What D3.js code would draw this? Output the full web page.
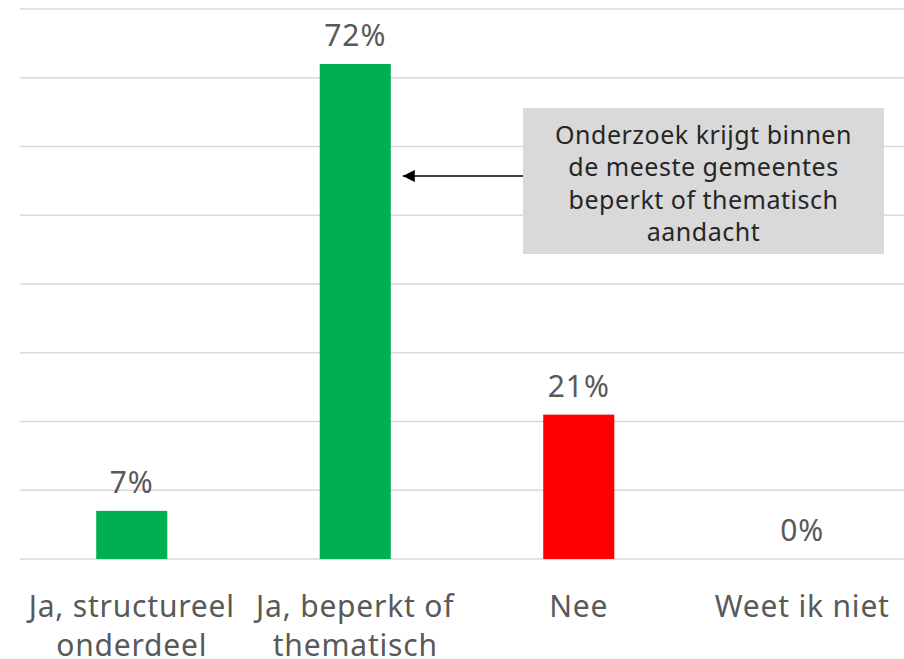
<!DOCTYPE html>
<html>
<head>
<meta charset="utf-8">
<script src="https://cdn.jsdelivr.net/npm/d3@7"></script>
<style>
  body { margin: 0; background: #fff; }
  svg { display: block; font-family: "Noto Sans", sans-serif; }
</style>
</head>
<body>
<svg id="chart"></svg>
<script>
const chartWidth = 904;
const chartHeight = 659;
const margin = {top: 9, right: -10, bottom: 100, left: 20};
const innerWidth = chartWidth - margin.left - margin.right;
const innerHeight = chartHeight - margin.top - margin.bottom;

// data
const categories = ["Ja, structureel onderdeel", "Ja, beperkt of thematisch", "Nee", "Weet ik niet"];
const categoryLines = [["Ja, structureel", "onderdeel"], ["Ja, beperkt of", "thematisch"], ["Nee"], ["Weet ik niet"]];
const values = [7, 72, 21, 0];
const barColors = ["#00b050", "#00b050", "#ff0000", "#00b050"];
const yTicks = [0, 10, 20, 30, 40, 50, 60, 70, 80];
const noteLines = ["Onderzoek krijgt binnen", "de meeste gemeentes", "beperkt of thematisch", "aandacht"];

const LABEL_COLOR = "#595959";
const GRID_COLOR = "#d9d9d9";

const svg = d3.select("#chart")
    .attr("width", chartWidth)
    .attr("height", chartHeight);
const g = svg.append("g")
    .attr("transform", `translate(${margin.left}, ${margin.top})`);

const xScale = d3.scaleBand()
    .domain(categories)
    .range([0, innerWidth])
    .paddingInner(0.682)
    .paddingOuter(0.341);
const yScale = d3.scaleLinear()
    .domain([0, 80])
    .range([innerHeight, 0]);

// gridlines
g.append("g")
    .attr("class", "grid")
    .selectAll("line")
    .data(yTicks)
    .join("line")
    .attr("x1", 0)
    .attr("x2", innerWidth)
    .attr("y1", d => yScale(d))
    .attr("y2", d => yScale(d))
    .attr("stroke", GRID_COLOR)
    .attr("stroke-width", 1.5);

// bars
g.selectAll(".bar")
    .data(values)
    .join("rect")
    .attr("class", "bar")
    .attr("x", (d, i) => xScale(categories[i]))
    .attr("y", d => yScale(d))
    .attr("width", xScale.bandwidth())
    .attr("height", d => innerHeight - yScale(d))
    .attr("fill", (d, i) => barColors[i]);

// value labels
g.selectAll(".value-label")
    .data(values)
    .join("text")
    .attr("class", "value-label")
    .attr("x", (d, i) => xScale(categories[i]) + xScale.bandwidth() / 2)
    .attr("y", d => yScale(d) - 18)
    .attr("text-anchor", "middle")
    .attr("fill", LABEL_COLOR)
    .attr("font-size", 30)
    .attr("letter-spacing", 1)
    .text(d => d + "%");

// category labels
const catLabels = g.selectAll(".cat-label")
    .data(categoryLines)
    .join("text")
    .attr("class", "cat-label")
    .attr("text-anchor", "middle")
    .attr("fill", LABEL_COLOR)
    .attr("font-size", 30)
    .attr("letter-spacing", 0.8)
    .attr("transform", (d, i) => `translate(${xScale(categories[i]) + xScale.bandwidth() / 2}, ${innerHeight + 58})`);
catLabels.selectAll("tspan")
    .data(d => d)
    .join("tspan")
    .attr("x", 0)
    .attr("y", (d, i) => i * 39)
    .text(d => d);

// annotation box with arrow to the second bar
const boxX = 503, boxY = 99, boxW = 361, boxH = 146;
const note = g.append("g").attr("class", "note");
note.append("rect")
    .attr("x", boxX)
    .attr("y", boxY)
    .attr("width", boxW)
    .attr("height", boxH)
    .attr("fill", "#d9d9d9");
note.selectAll("text")
    .data(noteLines)
    .join("text")
    .attr("x", boxX + boxW / 2)
    .attr("y", (d, i) => boxY + 36 + i * 32.3)
    .attr("text-anchor", "middle")
    .attr("fill", "#262626")
    .attr("font-size", 25)
    .attr("letter-spacing", 0.5)
    .text(d => d);

svg.append("defs").append("marker")
    .attr("id", "arrow")
    .attr("viewBox", "0 0 10 10")
    .attr("refX", 10)
    .attr("refY", 5)
    .attr("markerWidth", 17)
    .attr("markerHeight", 12)
    .attr("markerUnits", "userSpaceOnUse")
    .attr("orient", "auto")
    .append("path")
    .attr("d", "M0,0 L10,5 L0,10 Z")
    .attr("fill", "#000");

const arrowX = xScale(categories[1]) + xScale.bandwidth() + 12;
note.append("line")
    .attr("x1", boxX)
    .attr("x2", arrowX)
    .attr("y1", yScale(55.7))
    .attr("y2", yScale(55.7))
    .attr("stroke", "#000")
    .attr("stroke-width", 1.5)
    .attr("marker-end", "url(#arrow)");
</script>
</body>
</html>
